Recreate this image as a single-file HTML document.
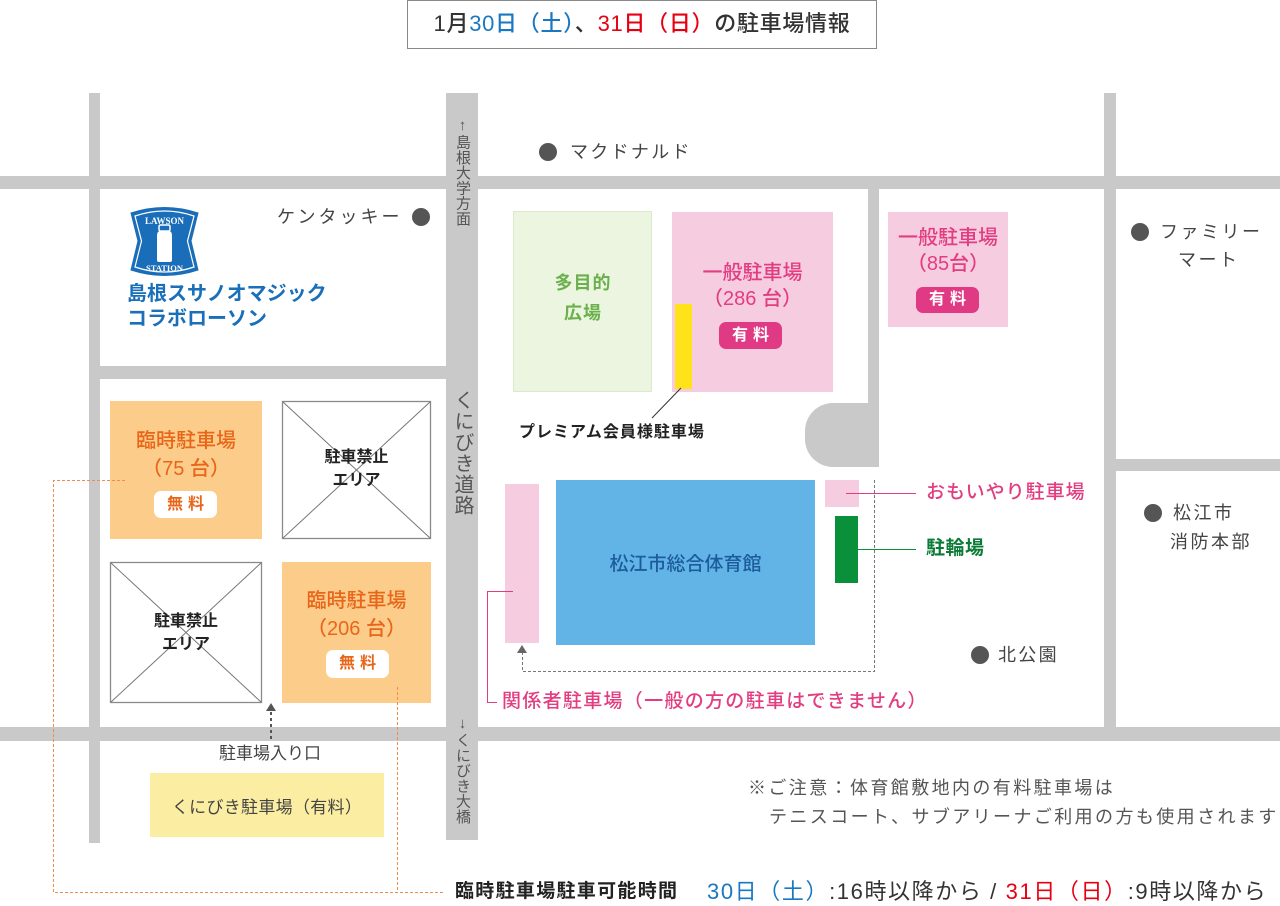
<!DOCTYPE html>
<html><head><meta charset="utf-8">
<style>
html,body{margin:0;padding:0;background:#fff;}
body{width:1280px;height:903px;position:relative;overflow:hidden;font-family:"Liberation Sans","Noto Sans CJK JP",sans-serif;}
.t{position:absolute;white-space:nowrap;font-family:"Liberation Sans","Noto Sans CJK JP",sans-serif;}
.c{text-align:center;}
.v{position:absolute;writing-mode:vertical-rl;text-orientation:upright;white-space:nowrap;color:#555;font-family:"Liberation Sans","Noto Sans CJK JP",sans-serif;}
.badge{position:absolute;border-radius:7px;text-align:center;font-weight:700;font-size:16px;letter-spacing:5px;text-indent:5px;}
.pk{color:#e23d80;}
.or{color:#e8661a;}
.gy{color:#444;}
</style></head>
<body>
<svg width="1280" height="903" style="position:absolute;left:0;top:0" xmlns="http://www.w3.org/2000/svg">
  <g fill="#c9c9c9">
    <rect x="0" y="176" width="1280" height="13"/>
    <rect x="0" y="727" width="1280" height="14"/>
    <rect x="89" y="93" width="11" height="750"/>
    <rect x="446" y="93" width="32" height="747"/>
    <rect x="1104" y="93" width="12" height="634"/>
    <rect x="100" y="366" width="346" height="13"/>
    <rect x="868" y="189" width="11" height="278"/>
    <rect x="1116" y="459" width="164" height="12"/>
    <path d="M879,403 H833 A28,28 0 0 0 805,431 V439 A28,28 0 0 0 833,467 H879 Z"/>
  </g>
  <rect x="513.5" y="211.5" width="138" height="180" fill="#ecf5e0" stroke="#dce9cd" stroke-width="1"/>
  <rect x="672" y="212" width="161" height="180" fill="#f6cde0"/>
  <rect x="675" y="304" width="17" height="85" fill="#ffe21a"/>
  <rect x="888" y="212" width="120" height="115" fill="#f6cde0"/>
  <rect x="110" y="401" width="152" height="138" fill="#fccc8a"/>
  <rect x="282" y="562" width="149" height="141" fill="#fccc8a"/>
  <g stroke="#8a8a8a" fill="#fff">
    <rect x="282.5" y="401.5" width="148" height="137" stroke-width="1.3"/>
    <rect x="110.5" y="562.5" width="151" height="140" stroke-width="1.3"/>
  </g>
  <g stroke="#777" stroke-width="1">
    <line x1="283" y1="402" x2="430" y2="538"/>
    <line x1="430" y1="402" x2="283" y2="538"/>
    <line x1="111" y1="563" x2="261" y2="702"/>
    <line x1="261" y1="563" x2="111" y2="702"/>
  </g>
  <rect x="150" y="773" width="234" height="64" fill="#fbeea2"/>
  <rect x="505" y="484" width="34" height="159" fill="#f6cde0"/>
  <rect x="556" y="480" width="259" height="165" fill="#62b4e6"/>
  <rect x="825" y="480" width="34" height="27" fill="#f6cde0"/>
  <rect x="835" y="516" width="23" height="67" fill="#0a8f3b"/>
  <g fill="#555">
    <circle cx="421" cy="217" r="9"/>
    <circle cx="548" cy="152" r="9"/>
    <circle cx="1140" cy="232" r="9"/>
    <circle cx="1153" cy="513" r="9"/>
    <circle cx="980" cy="655" r="9"/>
  </g>
  <line x1="681" y1="388" x2="652" y2="418" stroke="#333" stroke-width="1"/>
  <line x1="846" y1="493.5" x2="916" y2="493.5" stroke="#e23d80" stroke-width="1"/>
  <line x1="846" y1="549.5" x2="916" y2="549.5" stroke="#0a8f3b" stroke-width="1"/>
  <path d="M513,591.5 H487.5 V702.5 H497" fill="none" stroke="#e23d80" stroke-width="1"/>
  <path d="M874.5,480 V671.5 H522.5 V653" fill="none" stroke="#777" stroke-width="1" stroke-dasharray="3,2"/>
  <polygon points="522,645 517,653 527,653" fill="#666"/>
  <polygon points="271,703 266,711 276,711" fill="#555"/>
  <line x1="271" y1="712" x2="271" y2="739" stroke="#555" stroke-width="2" stroke-dasharray="3,3"/>
  <path d="M125,480.5 H53.5 V892.5 H443" fill="none" stroke="#ef8b4e" stroke-width="1" stroke-dasharray="3,2"/>
  <path d="M397.5,687 V892" fill="none" stroke="#ef8b4e" stroke-width="1" stroke-dasharray="3,2"/>
  <path d="M131,213 Q164.5,202 198,213 L191,241 L198,270 Q164.5,281 131,270 L138,241 Z" fill="#1a6db8" stroke="#1a6db8" stroke-width="1"/>
  <path d="M135,216 Q164.5,206 194,216 L187.5,241 L194,267 Q164.5,277 135,267 L141.5,241 Z" fill="none" stroke="#fff" stroke-width="1.2"/>
  <rect x="159" y="225" width="11" height="6" rx="1.5" fill="none" stroke="#fff" stroke-width="1.5"/>
  <path d="M157,236 Q157,231 160,231 H169 Q172,231 172,236 V260 Q172,262 170,262 H159 Q157,262 157,260 Z" fill="#fff"/>
  <text x="164.5" y="224" text-anchor="middle" font-family="Liberation Serif, serif" font-weight="700" font-size="9" fill="#fff">LAWSON</text>
  <text x="164.5" y="271" text-anchor="middle" font-family="Liberation Serif, serif" font-weight="700" font-size="8.5" fill="#fff">STATION</text>
</svg>

<div style="position:absolute;left:407px;top:0;width:468px;height:47px;border:1px solid #888;"></div>
<div class="t c" style="left:407px;top:0;width:470px;line-height:48px;font-size:22px;font-weight:500;color:#333;letter-spacing:0.7px;">1月<span style="color:#1a78c2">30日（土）</span>、<span style="color:#e60012">31日（日）</span>の駐車場情報</div>

<div class="t" style="left:127px;top:282px;font-size:20px;line-height:24px;font-weight:700;color:#1a6fba;">島根スサノオマジック</div>
<div class="t" style="left:127px;top:307px;font-size:20px;line-height:24px;font-weight:700;color:#1a6fba;">コラボローソン</div>

<div class="t gy" style="left:277px;top:206px;font-size:18px;line-height:22px;letter-spacing:3px;">ケンタッキー</div>
<div class="t gy" style="left:570px;top:141px;font-size:18px;line-height:22px;letter-spacing:2.3px;">マクドナルド</div>
<div class="t gy" style="left:1160px;top:221px;font-size:18px;line-height:22px;letter-spacing:2.5px;">ファミリー</div>
<div class="t gy" style="left:1178px;top:249px;font-size:18px;line-height:22px;letter-spacing:2.5px;">マート</div>
<div class="t gy" style="left:1173px;top:502px;font-size:18px;line-height:22px;letter-spacing:2.5px;">松江市</div>
<div class="t gy" style="left:1170px;top:531px;font-size:18px;line-height:22px;letter-spacing:2.5px;">消防本部</div>
<div class="t gy" style="left:998px;top:644px;font-size:18px;line-height:22px;letter-spacing:2.3px;">北公園</div>

<div class="v" style="left:454px;top:117px;width:16px;font-size:15px;line-height:16px;letter-spacing:0.3px;">↑島根大学方面</div>
<div class="v" style="left:452px;top:390px;width:20px;font-size:20px;line-height:20px;letter-spacing:1px;">くにびき道路</div>
<div class="v" style="left:454px;top:715px;width:16px;font-size:15px;line-height:16px;letter-spacing:0.3px;">↓くにびき大橋</div>

<div class="t c" style="left:513px;top:271px;width:140px;font-size:18px;line-height:24px;font-weight:700;color:#6ab04c;letter-spacing:1px;">多目的</div>
<div class="t c" style="left:513px;top:301px;width:140px;font-size:18px;line-height:24px;font-weight:700;color:#6ab04c;letter-spacing:1px;">広場</div>

<div class="t c pk" style="left:672px;top:261px;width:161px;font-size:20px;line-height:24px;font-weight:500;">一般駐車場</div>
<div class="t c pk" style="left:672px;top:287px;width:161px;font-size:20px;line-height:24px;font-weight:500;">（286 台）</div>
<div class="badge" style="left:719px;top:322px;width:63px;height:27px;line-height:27px;background:#e03a84;color:#fff;">有料</div>

<div class="t c pk" style="left:888px;top:226px;width:120px;font-size:20px;line-height:24px;font-weight:500;">一般駐車場</div>
<div class="t c pk" style="left:888px;top:252px;width:120px;font-size:20px;line-height:24px;font-weight:500;">（85台）</div>
<div class="badge" style="left:916px;top:287px;width:63px;height:26px;line-height:26px;background:#e03a84;color:#fff;">有料</div>

<div class="t" style="left:519px;top:423px;font-size:16px;line-height:20px;font-weight:700;color:#222;letter-spacing:1px;">プレミアム会員様駐車場</div>

<div class="t c or" style="left:110px;top:429px;width:152px;font-size:20px;line-height:24px;font-weight:500;">臨時駐車場</div>
<div class="t c or" style="left:110px;top:457px;width:152px;font-size:20px;line-height:24px;font-weight:500;">（75 台）</div>
<div class="badge" style="left:154px;top:491px;width:63px;height:27px;line-height:27px;background:#fff;color:#e8661a;">無料</div>

<div class="t c or" style="left:282px;top:589px;width:149px;font-size:20px;line-height:24px;font-weight:500;">臨時駐車場</div>
<div class="t c or" style="left:282px;top:617px;width:149px;font-size:20px;line-height:24px;font-weight:500;">（206 台）</div>
<div class="badge" style="left:326px;top:650px;width:63px;height:28px;line-height:28px;background:#fff;color:#e8661a;">無料</div>

<div class="t c" style="left:282px;top:447px;width:149px;font-size:16px;line-height:22px;font-weight:700;color:#222;">駐車禁止</div>
<div class="t c" style="left:282px;top:470px;width:149px;font-size:16px;line-height:22px;font-weight:700;color:#222;">エリア</div>
<div class="t c" style="left:110px;top:611px;width:152px;font-size:16px;line-height:22px;font-weight:700;color:#222;">駐車禁止</div>
<div class="t c" style="left:110px;top:634px;width:152px;font-size:16px;line-height:22px;font-weight:700;color:#222;">エリア</div>

<div class="t c" style="left:556px;top:553px;width:259px;font-size:19px;line-height:24px;font-weight:500;color:#1d5c9c;">松江市総合体育館</div>

<div class="t pk" style="left:926px;top:481px;font-size:19px;line-height:24px;font-weight:500;letter-spacing:1px;">おもいやり駐車場</div>
<div class="t" style="left:926px;top:537px;font-size:19px;line-height:24px;font-weight:700;color:#0a7a36;letter-spacing:0.5px;">駐輪場</div>
<div class="t pk" style="left:502px;top:690px;font-size:19px;line-height:24px;font-weight:500;letter-spacing:1.3px;">関係者駐車場（一般の方の駐車はできません）</div>

<div class="t c gy" style="left:200px;top:743px;width:140px;font-size:17px;line-height:22px;">駐車場入り口</div>
<div class="t c gy" style="left:150px;top:797px;width:234px;font-size:17px;line-height:22px;letter-spacing:0.3px;">くにびき駐車場（有料）</div>

<div class="t" style="left:748px;top:777px;font-size:18px;line-height:22px;color:#555;letter-spacing:2.4px;">※ご注意：体育館敷地内の有料駐車場は</div>
<div class="t" style="left:769px;top:806px;font-size:18px;line-height:22px;color:#555;letter-spacing:2.4px;">テニスコート、サブアリーナご利用の方も使用されます</div>

<div class="t" style="left:455px;top:880px;font-size:19px;line-height:24px;font-weight:700;color:#222;letter-spacing:1.3px;">臨時駐車場駐車可能時間</div>
<div class="t" style="left:707px;top:878px;font-size:22px;line-height:28px;color:#333;letter-spacing:1.6px;"><span style="color:#1a78c2">30日（土）</span>:16時以降から / <span style="color:#e60012">31日（日）</span>:9時以降から</div>

</body></html>
